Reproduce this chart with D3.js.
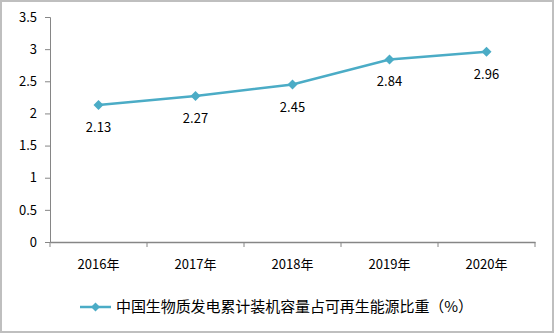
<!DOCTYPE html>
<html><head><meta charset="utf-8">
<script src="https://cdn.jsdelivr.net/npm/d3@7"></script>
<style>body{margin:0;background:#fff}svg{display:block}</style>
</head><body>
<script>
const categories = ["2016年","2017年","2018年","2019年","2020年"];
const values = [2.13, 2.27, 2.45, 2.84, 2.96];
const yTicks = [0, 0.5, 1, 1.5, 2, 2.5, 3, 3.5];
const seriesName = "中国生物质发电累计装机容量占可再生能源比重（%）";

const W = 555, H = 334;
const color = "#4bacc6";
const font = "'Noto Sans CJK SC', 'Liberation Sans', sans-serif";
const svg = d3.select("body").append("svg").attr("width", W).attr("height", H);
svg.append("rect").attr("x",1).attr("y",1).attr("width",W-3).attr("height",H-3)
  .attr("fill","#fff").attr("stroke","#bfbfbf").attr("stroke-width",2);

const x = d3.scaleBand().domain(categories).range([50, 535]);
const y = d3.scaleLinear().domain([0, 3.5]).range([242, 17]);

const yAxis = svg.append("g").attr("transform","translate(50,0)")
  .call(d3.axisLeft(y).tickValues(yTicks).tickSize(5).tickPadding(8).tickFormat(d3.format("")));
yAxis.select(".domain").attr("stroke","#868686");
yAxis.selectAll(".tick line").attr("stroke","#868686");
yAxis.selectAll("text").attr("font-family",font).attr("font-size",13).attr("fill","#000");

const xAxis = svg.append("g").attr("transform","translate(0,242)")
  .call(d3.axisBottom(x).tickSize(0).tickPadding(18));
xAxis.select(".domain").attr("stroke","#868686").attr("stroke-width",1.5);
xAxis.selectAll("text").attr("font-family",font).attr("font-size",13).attr("fill","#000");
svg.selectAll(".bt").data(d3.range(categories.length+1)).enter().append("line")
  .attr("x1",i=>50+i*x.step()).attr("x2",i=>50+i*x.step())
  .attr("y1",242).attr("y2",247).attr("stroke","#868686");

const line = d3.line().x((d,i)=>x(categories[i])+x.bandwidth()/2).y(d=>y(d));
svg.append("path").datum(values).attr("d",line).attr("fill","none")
  .attr("stroke",color).attr("stroke-width",2.5);
svg.selectAll(".pt").data(values).enter().append("path")
  .attr("d", d3.symbol().type(d3.symbolSquare).size(50))
  .attr("transform",(d,i)=>`translate(${x(categories[i])+x.bandwidth()/2},${y(d)}) rotate(45)`)
  .attr("fill",color);
svg.selectAll(".lbl").data(values).enter().append("text")
  .attr("x",(d,i)=>x(categories[i])+x.bandwidth()/2)
  .attr("y",d=>y(d)+27).attr("text-anchor","middle")
  .attr("font-family",font).attr("font-size",13).text(d=>d.toFixed(2));

const ly = 307;
svg.append("line").attr("x1",80).attr("x2",111).attr("y1",ly).attr("y2",ly)
  .attr("stroke",color).attr("stroke-width",2.5);
svg.append("path").attr("d", d3.symbol().type(d3.symbolSquare).size(40))
  .attr("transform",`translate(95.5,${ly}) rotate(45)`).attr("fill",color);
svg.append("text").attr("x",116).attr("y",ly+5).attr("font-family",font)
  .attr("font-size",15).attr("textLength",357).attr("lengthAdjust","spacing").text(seriesName);
</script>
</body></html>
